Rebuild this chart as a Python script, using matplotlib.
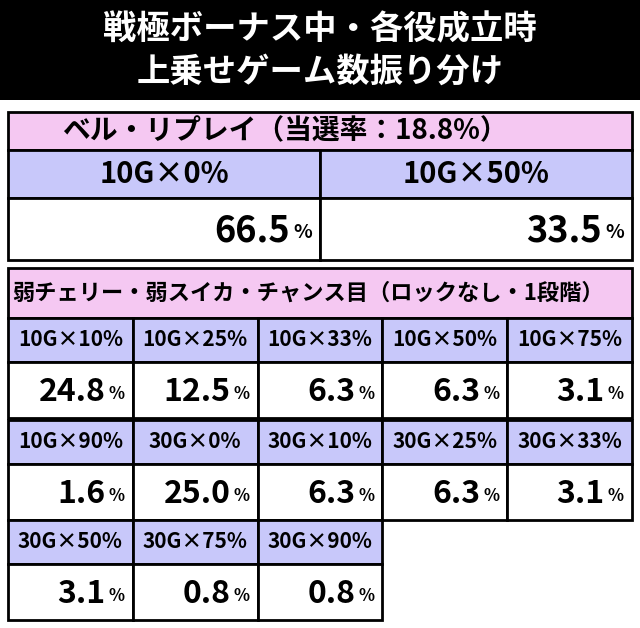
import matplotlib
matplotlib.use("Agg")
import matplotlib.pyplot as plt
from matplotlib.patches import Rectangle

plt.rcParams['font.family'] = ['Noto Sans CJK JP', 'DejaVu Sans']

title_lines = ["戦極ボーナス中・各役成立時", "上乗せゲーム数振り分け"]
bell_header = "ベル・リプレイ（当選率：18.8%）"
bell_labels = ["10G×0%", "10G×50%"]
bell_values = ["66.5", "33.5"]
weak_header = "弱チェリー・弱スイカ・チャンス目（ロックなし・1段階）"
weak_labels = ["10G×10%", "10G×25%", "10G×33%", "10G×50%", "10G×75%",
               "10G×90%", "30G×0%", "30G×10%", "30G×25%", "30G×33%",
               "30G×50%", "30G×75%", "30G×90%"]
weak_values = ["24.8", "12.5", "6.3", "6.3", "3.1",
               "1.6", "25.0", "6.3", "6.3", "3.1",
               "3.1", "0.8", "0.8"]

PINK = "#f5c8f2"
LAV = "#c8c8fa"

fig = plt.figure(figsize=(6.4, 6.28), dpi=100)
ax = fig.add_axes([0, 0, 1, 1])
ax.set_xlim(0, 640)
ax.set_ylim(628, 0)
ax.axis("off")


def cell(x, y, w, h, color, lw=2):
    ax.add_patch(Rectangle((x, y), w, h, facecolor=color, edgecolor="black", lw=lw))


def value_text(x, y, w, h, v, big=26, small=14):
    ax.text(x + w - 8, y + h / 2 + 4, "%", fontsize=small, fontweight="bold",
            ha="right", va="center")
    ax.text(x + w - 8 - small * 1.6, y + h / 2 + 2, v, fontsize=big,
            fontweight="bold", ha="right", va="center")


# title
cell(0, 0, 640, 100, "black", lw=0)
ax.text(320, 30, title_lines[0], color="white", fontsize=24, fontweight="bold",
        ha="center", va="center")
ax.text(320, 72, title_lines[1], color="white", fontsize=24, fontweight="bold",
        ha="center", va="center")

# bell / replay block
cell(8, 112, 624, 38, PINK)
ax.text(62, 131, bell_header, fontsize=20, fontweight="bold", ha="left", va="center")
bw = 312
for i, (lab, v) in enumerate(zip(bell_labels, bell_values)):
    x = 8 + i * bw
    cell(x, 150, bw, 48, LAV)
    ax.text(x + bw / 2, 174, lab, fontsize=21, fontweight="bold", ha="center", va="center")
    cell(x, 198, bw, 62, "white")
    value_text(x, 198, bw, 62, v)

# weak cherry block
cell(8, 268, 624, 50, PINK)
ax.text(12, 293, weak_header, fontsize=16, fontweight="bold", ha="left", va="center")
cw = 624 / 5
row_tops = [318, 420, 520]
for i, (lab, v) in enumerate(zip(weak_labels, weak_values)):
    r, c = divmod(i, 5)
    x = 8 + c * cw
    y = row_tops[r]
    cell(x, y, cw, 44, LAV)
    ax.text(x + cw / 2, y + 22, lab, fontsize=15, fontweight="bold", ha="center", va="center")
    cell(x, y + 44, cw, 56, "white")
    value_text(x, y + 44, cw, 56, v, big=23, small=12)

fig.savefig("out.png", dpi=100)
